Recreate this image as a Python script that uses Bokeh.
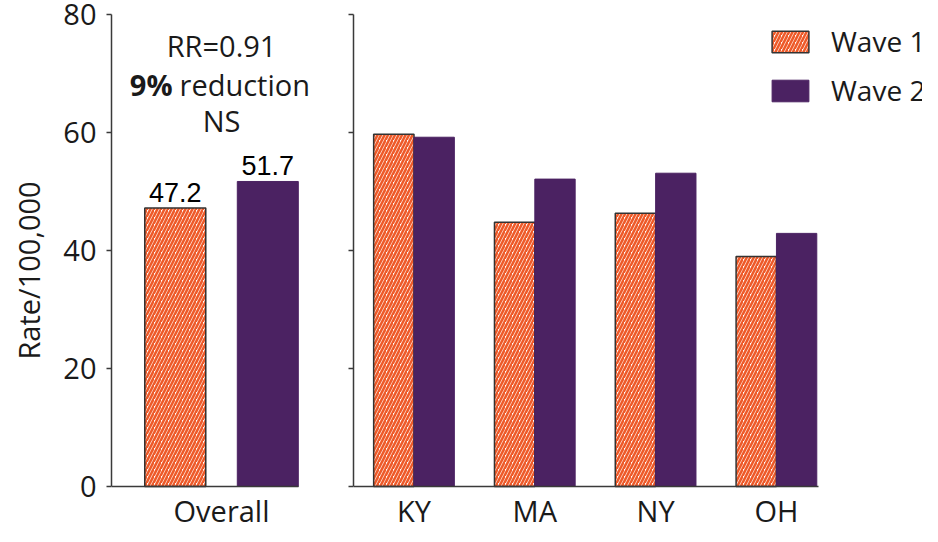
from bokeh.plotting import figure
from bokeh.layouts import row
from bokeh.models import Range1d, FixedTicker, Legend, LegendItem, ColumnDataSource
from bokeh.transform import dodge
from bokeh.core.properties import value
from bokeh.embed import file_html
from bokeh.resources import INLINE

# ---- data ----
overall_label = ["Overall"]
overall_w1 = [47.2]
overall_w2 = [51.7]
states = ["KY", "MA", "NY", "OH"]
state_w1 = [59.7, 44.8, 46.3, 39.0]
state_w2 = [59.2, 52.1, 53.1, 42.9]
y_ticks = [0, 20, 40, 60, 80]
series = ["Wave 1", "Wave 2"]
annot_rr = "RR=0.91"
annot_pct = "9%"
annot_red = "reduction"
annot_ns = "NS"

ORANGE = "#EE5A29"
PURPLE = "#4B2262"
AXIS = "#3a3a3a"
TEXT = "#1a1a1a"
FONT = "Open Sans"
FS = "29px"
Y_LOW = -6.78


def base_style(p):
    p.outline_line_color = None
    p.xgrid.visible = False
    p.ygrid.visible = False
    p.background_fill_color = "white"
    p.border_fill_color = "white"
    for ax in (p.xaxis[0], p.yaxis[0]):
        ax.axis_line_color = AXIS
        ax.axis_line_width = 1.5
        ax.major_tick_line_color = AXIS
        ax.major_tick_line_width = 1.5
        ax.minor_tick_line_color = None
        ax.major_label_text_font = FONT
        ax.major_label_text_font_size = FS
        ax.major_label_text_color = TEXT
    p.yaxis.ticker = FixedTicker(ticks=y_ticks)
    p.yaxis.bounds = (0, 80)
    p.yaxis.major_tick_in = 0
    p.yaxis.major_tick_out = 5
    p.yaxis.major_label_standoff = 10
    p.xaxis.fixed_location = 0
    p.xaxis.major_tick_line_color = None
    p.xaxis.major_tick_in = 0
    p.xaxis.major_tick_out = 0
    p.xaxis.major_label_standoff = 5


HATCH = dict(fill_color="white", hatch_pattern="/", hatch_color=ORANGE, hatch_scale=7,
             hatch_weight=2.6, line_color="#333333", line_width=1.5)

# ---- left panel: Overall ----
left = figure(width=330, height=526, output_backend="svg", toolbar_location=None,
              x_range=Range1d(-0.911, 0.902), y_range=Range1d(Y_LOW, 80),
              min_border_left=111, min_border_right=0, min_border_top=14,
              min_border_bottom=0)
base_style(left)
left.xaxis.bounds = (-0.911, 0.637)
src_l = ColumnDataSource(dict(x=list(range(len(overall_label))), w1=overall_w1, w2=overall_w2,
                              t1=[f"{v:.1f}" for v in overall_w1],
                              t2=[f"{v:.1f}" for v in overall_w2]))
left.vbar(x=dodge("x", -0.383, range=left.x_range), top="w1", width=0.505, source=src_l, **HATCH)
left.vbar(x=dodge("x", 0.383, range=left.x_range), top="w2", width=0.505, source=src_l,
          fill_color=PURPLE, line_color=PURPLE, line_width=1)
left.text(x=dodge("x", -0.383, range=left.x_range), y="w1", text="t1", source=src_l,
          text_font=value("Liberation Sans"), text_font_size="27px", text_color="black",
          text_align="center", text_baseline="alphabetic", y_offset=-16)
left.text(x=dodge("x", 0.383, range=left.x_range), y="w2", text="t2", source=src_l,
          text_font=value("Liberation Sans"), text_font_size="27px", text_color="black",
          text_align="center", text_baseline="alphabetic", y_offset=-16)
# annotation block
left.text(x=[0], y=[74.7], text=[annot_rr], text_font=value(FONT), text_font_size=FS,
          text_color=TEXT, text_align="center", text_baseline="middle")
left.text(x=[0], y=[68.1], text=[annot_pct], text_font=value(FONT), text_font_size=FS,
          text_font_style="bold", text_color=TEXT, text_align="right",
          text_baseline="middle", x_offset=-49)
left.text(x=[0], y=[68.1], text=[annot_red], text_font=value(FONT), text_font_size=FS,
          text_color=TEXT, text_align="left", text_baseline="middle", x_offset=-42)
left.text(x=[0], y=[62.0], text=[annot_ns], text_font=value(FONT), text_font_size=FS,
          text_color=TEXT, text_align="center", text_baseline="middle")
left.xaxis.ticker = FixedTicker(ticks=list(range(len(overall_label))))
left.xaxis.major_label_overrides = {i: s for i, s in enumerate(overall_label)}
left.yaxis.axis_label = "Rate/100,000"
left.yaxis.axis_label_text_font = FONT
left.yaxis.axis_label_text_font_size = FS
left.yaxis.axis_label_text_font_style = "normal"
left.yaxis.axis_label_text_color = TEXT
left.yaxis.axis_label_standoff = 12

# ---- right panel: states ----
right = figure(width=592, height=526, output_backend="svg", toolbar_location=None,
               x_range=Range1d(-0.5008, 4.209), y_range=Range1d(Y_LOW, 80),
               min_border_left=23, min_border_right=0, min_border_top=14,
               min_border_bottom=0)
base_style(right)
src_r = ColumnDataSource(dict(x=list(range(len(states))), w1=state_w1, w2=state_w2))
r1 = right.vbar(x=dodge("x", -0.167, range=right.x_range), top="w1", width=0.334,
                source=src_r, **HATCH)
r2 = right.vbar(x=dodge("x", 0.167, range=right.x_range), top="w2", width=0.334, source=src_r,
                fill_color=PURPLE, line_color=PURPLE, line_width=1)
right.xaxis.ticker = FixedTicker(ticks=list(range(len(states))))
right.xaxis.major_label_overrides = {i: s for i, s in enumerate(states)}
right.xaxis.bounds = (-0.5008, 3.35)
right.yaxis.major_label_text_font_size = "0px"

legend = Legend(items=[LegendItem(label=series[0], renderers=[r1]),
                       LegendItem(label=series[1], renderers=[r2])],
                location=(414, 417), orientation="vertical",
                label_text_font=FONT, label_text_font_size="28px", label_text_color=TEXT,
                glyph_width=46, glyph_height=27, label_standoff=18, spacing=11,
                padding=0, margin=0, border_line_color=None, background_fill_alpha=0)
right.add_layout(legend)

layout = row(left, right)
open("out.html", "w").write(file_html(layout, INLINE))
